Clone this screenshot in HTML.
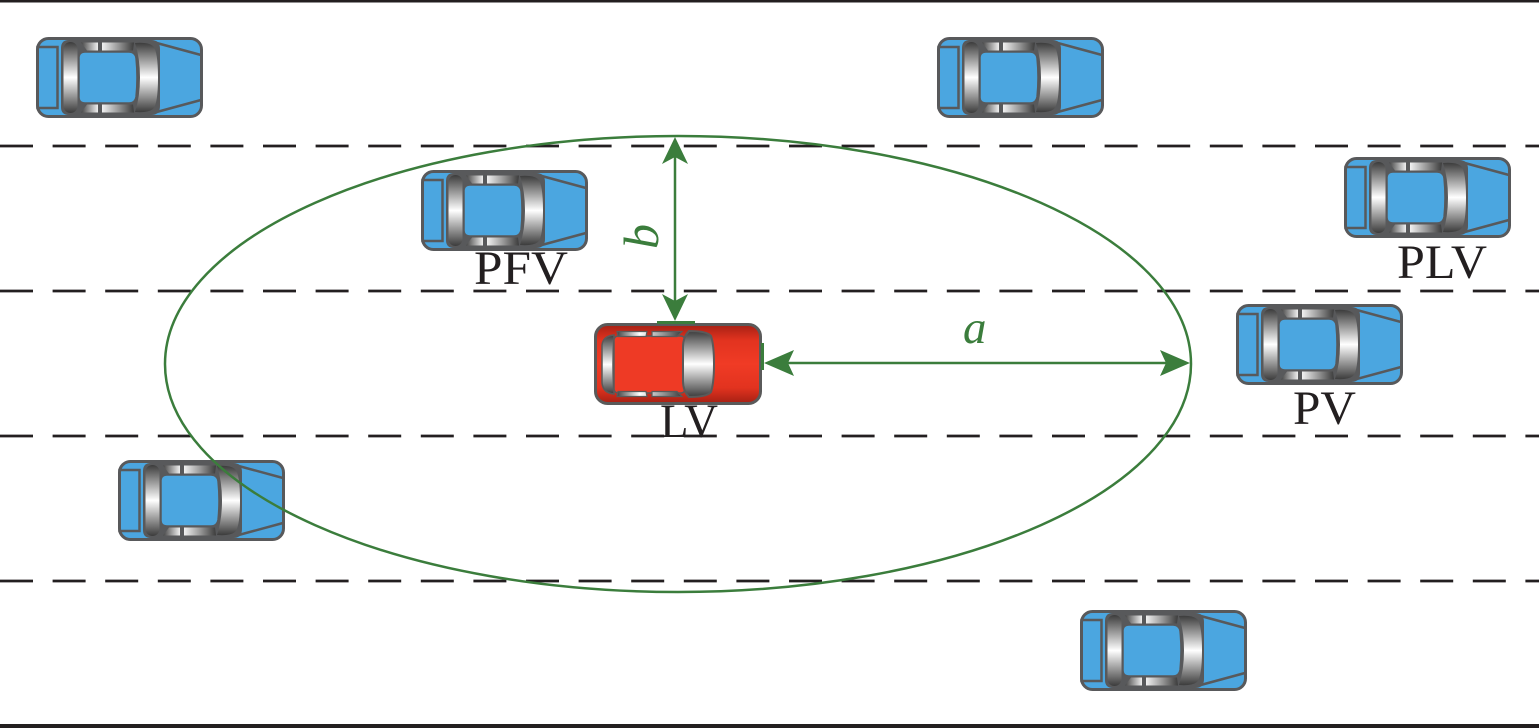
<!DOCTYPE html>
<html><head><meta charset="utf-8"><style>
html,body{margin:0;padding:0;background:#fff;}
svg{display:block;}
</style></head><body>
<svg width="1539" height="728" viewBox="0 0 1539 728" xmlns="http://www.w3.org/2000/svg">
<defs>
<linearGradient id="gv" x1="0" y1="0" x2="0" y2="1">
<stop offset="0" stop-color="#3c3c3c"/>
<stop offset="0.28" stop-color="#a8a8a8"/>
<stop offset="0.5" stop-color="#ffffff"/>
<stop offset="0.72" stop-color="#a8a8a8"/>
<stop offset="1" stop-color="#3c3c3c"/>
</linearGradient>
<linearGradient id="gh" x1="0" y1="0" x2="1" y2="0">
<stop offset="0" stop-color="#444"/>
<stop offset="0.35" stop-color="#fff"/>
<stop offset="0.7" stop-color="#999"/>
<stop offset="1" stop-color="#3c3c3c"/>
</linearGradient>
<linearGradient id="rd" x1="0" y1="0" x2="0" y2="1">
<stop offset="0" stop-color="#a52014"/>
<stop offset="0.2" stop-color="#e2331f"/>
<stop offset="0.5" stop-color="#f03b25"/>
<stop offset="0.8" stop-color="#e2331f"/>
<stop offset="1" stop-color="#a52014"/>
</linearGradient>
<g id="bc">
<rect x="1.5" y="1.5" width="164" height="78" rx="11" fill="#4ba6e0" stroke="#58595b" stroke-width="3"/>
<rect x="1.5" y="10" width="20" height="61" fill="none" stroke="#58595b" stroke-width="2.5"/>
<path d="M106 2 L165 18 M106 79 L165 63" stroke="#58595b" stroke-width="2.5" fill="none"/>
<path d="M64 2 V9 M64 72 V79" stroke="#58595b" stroke-width="1.5"/>
<path d="M33 3 H115 Q124 3 124 12 V69 Q124 78 115 78 H33 Q25 78 25 70 V11 Q25 3 33 3 Z" fill="#58595b"/>
<rect x="27.5" y="5" width="14" height="71" rx="7" fill="url(#gv)"/>
<path d="M99 6 Q112 5 117 9 Q122 14 122 40.5 Q122 67 117 72 Q112 76 99 75 Q104 60 104 40.5 Q104 21 99 6 Z" fill="url(#gv)"/>
<path d="M45 5.5 H62 V13.5 H51 Z M66 5.5 H98 L97 13.5 H66 Z" fill="url(#gh)"/>
<path d="M45 75.5 H62 V67.5 H51 Z M66 75.5 H98 L97 67.5 H66 Z" fill="url(#gh)"/>
<path d="M49 15 H93 Q99 15 100 21 Q102 40.5 100 60 Q99 66 93 66 H49 Q43 66 43 60 V21 Q43 15 49 15 Z" fill="#4ba6e0" stroke="#58595b" stroke-width="1.5"/>
</g>
<g id="rc">
<rect x="1.5" y="1.5" width="165" height="79" rx="12" fill="url(#rd)" stroke="#5a5a5a" stroke-width="3"/>
<rect x="20" y="13" width="71" height="57" rx="4" fill="#ee3a25" stroke="#5a5a5a" stroke-width="1.5"/>
<path d="M20 12 Q9 13 8 22 V60 Q9 70 20 71 Q18 41 20 12 Z" fill="url(#gv)" stroke="#5a5a5a" stroke-width="1.5"/>
<path d="M23 8.5 H53 L52 13.5 H24 Z M58 8.5 H88 L83 13.5 H58 Z" fill="url(#gh)" stroke="#5a5a5a" stroke-width="1.2"/>
<path d="M23 73.5 H53 L52 68.5 H24 Z M58 73.5 H88 L83 68.5 H58 Z" fill="url(#gh)" stroke="#5a5a5a" stroke-width="1.2"/>
<path d="M95 8 Q113 8 117 13 Q120 22 120 41 Q120 60 117 69 Q113 74 95 74 Q89 68 89 58 V24 Q89 14 95 8 Z" fill="url(#gv)" stroke="#5a5a5a" stroke-width="2"/>
</g>
</defs>

<!-- road lines -->
<rect x="0" y="0" width="1539" height="2.5" fill="#231f20"/>
<rect x="0" y="724" width="1539" height="4" fill="#231f20"/>
<g stroke="#231f20" stroke-width="2.7" stroke-dasharray="33 19.6" fill="none">
<line x1="0" y1="146" x2="1539" y2="146"/>
<line x1="0" y1="291" x2="1539" y2="291"/>
<line x1="0" y1="436" x2="1539" y2="436"/>
<line x1="0" y1="581" x2="1539" y2="581"/>
</g>

<!-- cars -->
<use href="#bc" x="36" y="37"/>
<use href="#bc" x="937" y="37"/>
<use href="#bc" x="421" y="170"/>
<use href="#bc" x="1344" y="157"/>
<use href="#bc" x="1236" y="304"/>
<use href="#bc" x="118" y="460"/>
<use href="#bc" x="1080" y="610"/>
<use href="#rc" x="594" y="323"/>

<!-- labels -->
<g font-family="'Liberation Serif', serif" font-size="48" fill="#231f20">
<text x="474" y="284" textLength="94" lengthAdjust="spacingAndGlyphs">PFV</text>
<text x="1397" y="278" textLength="90" lengthAdjust="spacingAndGlyphs">PLV</text>
<text x="660" y="437" textLength="58" lengthAdjust="spacingAndGlyphs">LV</text>
<text x="1293" y="424" textLength="63" lengthAdjust="spacingAndGlyphs">PV</text>
</g>

<!-- ellipse and arrows -->
<g stroke="#3b7d3c" fill="none">
<ellipse cx="678" cy="364" rx="513" ry="228" stroke-width="2.5"/>
<line x1="675" y1="156" x2="675" y2="302" stroke-width="2.5"/>
<line x1="787" y1="363" x2="1167" y2="363" stroke-width="2.5"/>
<line x1="657" y1="322.5" x2="695" y2="322.5" stroke-width="3"/>
<line x1="762.5" y1="343" x2="762.5" y2="370" stroke-width="3"/>
</g>
<g fill="#3b7d3c">
<path d="M675 137 L688 164 L675 157 L662 164 Z"/>
<path d="M675 321 L688 294 L675 301 L662 294 Z"/>
<path d="M764 363 L794 350 L788 363 L794 376 Z"/>
<path d="M1190 363 L1160 350 L1166 363 L1160 376 Z"/>
</g>
<text x="963" y="343" font-family="'Liberation Serif', serif" font-style="italic" font-size="47" fill="#3b7d3c">a</text>
<text transform="translate(658,249) rotate(-90)" font-family="'Liberation Serif', serif" font-style="italic" font-size="50" fill="#3b7d3c">b</text>
</svg>
</body></html>
